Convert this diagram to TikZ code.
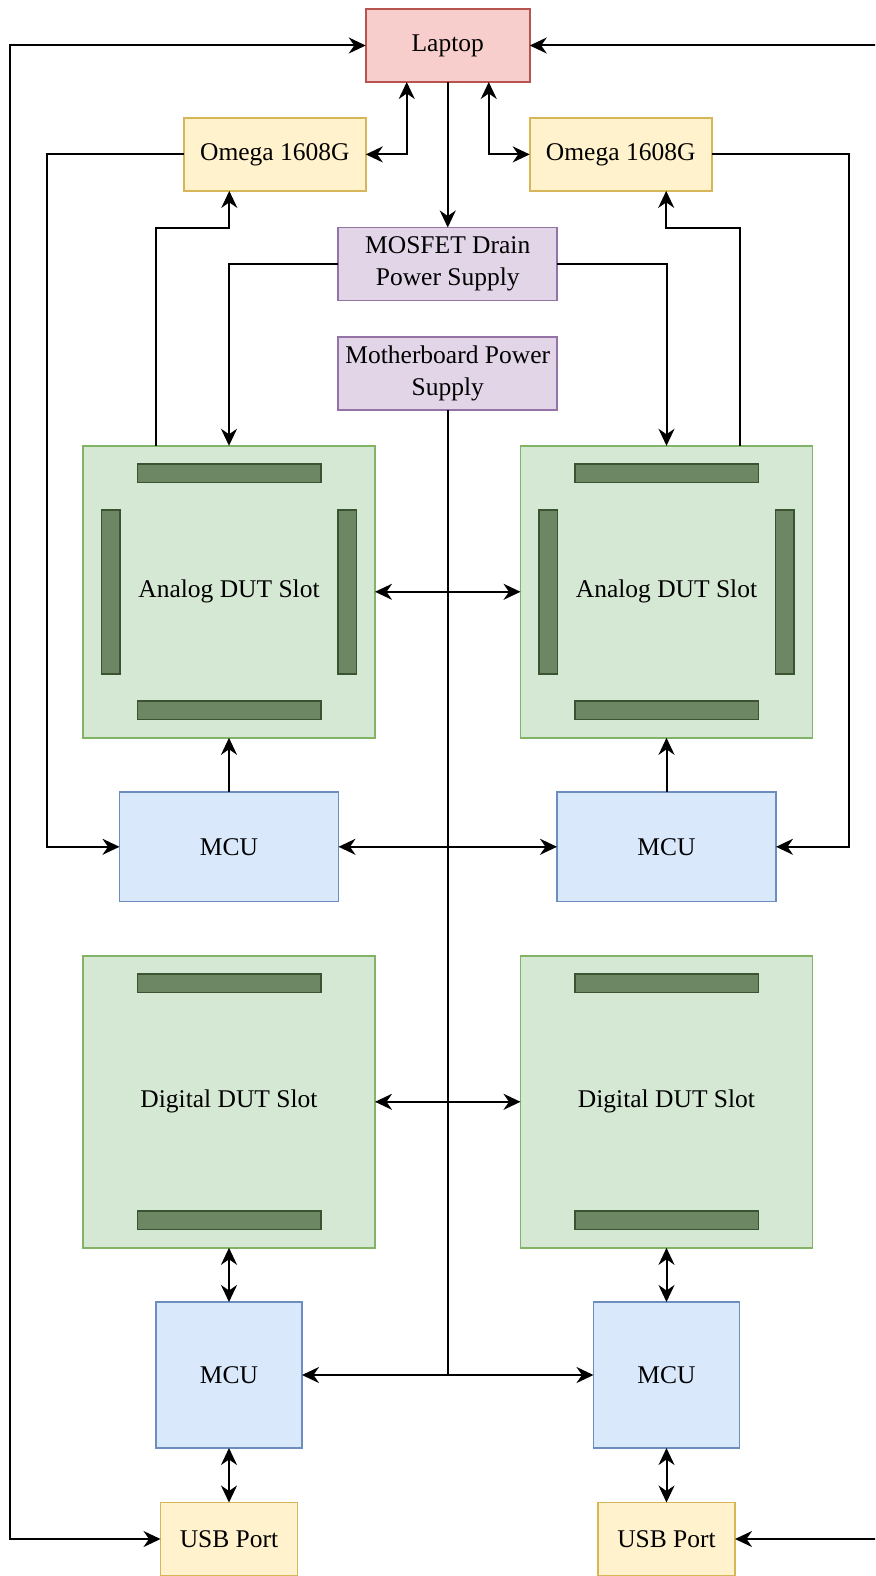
\documentclass[tikz,border=0pt]{standalone}
\usepackage{fontspec}
\setmainfont{Liberation Serif}
\usetikzlibrary{arrows.meta,calc}

\definecolor{lapFill}{HTML}{F8CECC}\definecolor{lapLine}{HTML}{B85450}
\definecolor{yelFill}{HTML}{FFF2CC}\definecolor{yelLine}{HTML}{D6B656}
\definecolor{purFill}{HTML}{E1D5E7}\definecolor{purLine}{HTML}{9673A6}
\definecolor{grnFill}{HTML}{D5E8D4}\definecolor{grnLine}{HTML}{82B366}
\definecolor{bluFill}{HTML}{DAE8FC}\definecolor{bluLine}{HTML}{6C8EBF}
\definecolor{barFill}{HTML}{6D8764}\definecolor{barLine}{HTML}{3A5431}

\begin{document}
\begin{tikzpicture}[x=1pt,y=-1pt,
  >={Stealth[length=17pt,width=16pt,inset=5.5pt]},
  box/.style={draw,rectangle,line width=1.8pt,inner sep=0pt,outer sep=0pt,
    align=center,font=\fontsize{25.5}{31.5}\selectfont},
  laptopbox/.style={box,fill=lapFill,draw=lapLine,minimum width=164pt,minimum height=73pt},
  omegabox/.style={box,fill=yelFill,draw=yelLine,minimum width=182pt,minimum height=73pt},
  usbbox/.style={box,fill=yelFill,draw=yelLine,minimum width=137pt,minimum height=73pt},
  supplybox/.style={box,fill=purFill,draw=purLine,minimum width=219pt,minimum height=73pt},
  slotbox/.style={box,fill=grnFill,draw=grnLine,minimum width=292pt,minimum height=292pt},
  mcuwide/.style={box,fill=bluFill,draw=bluLine,minimum width=219pt,minimum height=109.5pt},
  mcusq/.style={box,fill=bluFill,draw=bluLine,minimum width=146pt,minimum height=146pt},
  hbar/.style={draw=barLine,fill=barFill,line width=1.5pt,rectangle,inner sep=0pt,
    minimum width=183.5pt,minimum height=18.5pt},
  vbar/.style={draw=barLine,fill=barFill,line width=1.5pt,rectangle,inner sep=0pt,
    minimum width=18.5pt,minimum height=164pt},
  wire/.style={draw=black,line width=2pt}]

\clip (0,0) rectangle (875,1576);
\fill[white] (0,0) rectangle (875,1576);

% ---- blocks ----
\node[laptopbox] (laptop) at (447.75,45.5) {Laptop};
\node[omegabox] (omegaL) at (274.8,154.4) {Omega 1608G};
\node[omegabox] (omegaR) at (620.7,154.4) {Omega 1608G};
\node[supplybox] (mosfet) at (447.75,264) {MOSFET Drain\\Power Supply};
\node[supplybox] (mobo) at (447.75,373.3) {Motherboard Power\\Supply};

\node[slotbox] (anaL) at (229,591.8) {Analog DUT Slot};
\node[slotbox] (anaR) at (666.5,591.8) {Analog DUT Slot};
\node[mcuwide] (mcuAL) at (229,846.8) {MCU};
\node[mcuwide] (mcuAR) at (666.5,846.8) {MCU};

\node[slotbox] (digL) at (229,1101.8) {Digital DUT Slot};
\node[slotbox] (digR) at (666.5,1101.8) {Digital DUT Slot};
\node[mcusq] (mcuDL) at (229,1375) {MCU};
\node[mcusq] (mcuDR) at (666.5,1375) {MCU};
\node[usbbox] (usbL) at (229,1539) {USB Port};
\node[usbbox] (usbR) at (666.5,1539) {USB Port};

% ---- connector strips on the slots ----
\foreach \s in {anaL,anaR}{
  \node[hbar] (\s-top) at ($(\s)+(0,-118.5)$) {};
  \node[hbar] (\s-bot) at ($(\s)+(0,118.5)$) {};
  \node[vbar] (\s-lft) at ($(\s)+(-118.4,0)$) {};
  \node[vbar] (\s-rgt) at ($(\s)+(118.4,0)$) {};
}
\foreach \s in {digL,digR}{
  \node[hbar] (\s-top) at ($(\s)+(0,-118.5)$) {};
  \node[hbar] (\s-bot) at ($(\s)+(0,118.5)$) {};
}

% ---- routing points ----
\coordinate (lapQ1) at ($(laptop.south west)!0.25!(laptop.south east)$);
\coordinate (lapQ3) at ($(laptop.south west)!0.75!(laptop.south east)$);
\coordinate (railL) at (10.3,0);
\coordinate (railR) at (885.2,0);
\coordinate (omRailL) at (47,0);
\coordinate (omRailR) at (848.5,0);

% ---- connectors ----
\draw[wire,->] (laptop.south) -- (mosfet.north);
\draw[wire,<->] (omegaL.east) -| (lapQ1);
\draw[wire,<->] (omegaR.west) -| (lapQ3);

\draw[wire,->] ($(anaL.north west)!0.25!(anaL.north east)$)
  |- ($(omegaL.south west)!0.25!(omegaL.south east)+(0,36.7)$)
  -- ($(omegaL.south west)!0.25!(omegaL.south east)$);
\draw[wire,->] ($(anaR.north west)!0.75!(anaR.north east)$)
  |- ($(omegaR.south west)!0.75!(omegaR.south east)+(0,36.7)$)
  -- ($(omegaR.south west)!0.75!(omegaR.south east)$);

\draw[wire,->] (mosfet.west) -| (anaL.north);
\draw[wire,->] (mosfet.east) -| (anaR.north);

\draw[wire,->] (mobo.south) |- (mcuDL.east);
\draw[wire,->] (mobo.south) |- (mcuDR.west);

\draw[wire,<->] (anaL.east) -- (anaR.west);
\draw[wire,<->] (mcuAL.east) -- (mcuAR.west);
\draw[wire,<->] (digL.east) -- (digR.west);

\draw[wire,->] (mcuAL.north) -- (anaL.south);
\draw[wire,->] (mcuAR.north) -- (anaR.south);

\draw[wire,->] (omegaL.west) -- (omegaL.west -| omRailL) |- (mcuAL.west);
\draw[wire,->] (omegaR.east) -- (omegaR.east -| omRailR) |- (mcuAR.east);

\draw[wire,<->] (digL.south) -- (mcuDL.north);
\draw[wire,<->] (digR.south) -- (mcuDR.north);
\draw[wire,<->] (mcuDL.south) -- (usbL.north);
\draw[wire,<->] (mcuDR.south) -- (usbR.north);

\draw[wire,<->] (laptop.west) -- (laptop.west -| railL) |- (usbL.west);
\draw[wire,<->] (laptop.east) -- (laptop.east -| railR) |- (usbR.east);
\end{tikzpicture}
\end{document}
